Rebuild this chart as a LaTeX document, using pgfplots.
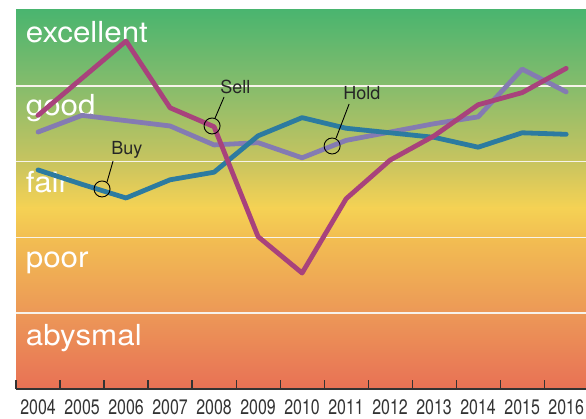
\documentclass[border=0pt]{standalone}
\usepackage{fontspec}
\setmainfont{TeX Gyre Heros}
\newfontfamily\condfont[FakeStretch=0.76]{TeX Gyre Heros}
\newfontfamily\bandfont[FakeStretch=1.08]{TeX Gyre Heros}
\usepackage{pgfplots}
\pgfplotsset{compat=1.18}
\usetikzlibrary{calc}

\definecolor{sellc}{HTML}{A8427C}
\definecolor{holdc}{HTML}{847BB2}
\definecolor{buyc}{HTML}{2C7BA0}
\definecolor{g5}{HTML}{44B46F}
\definecolor{g4}{HTML}{86BC6C}
\definecolor{g3}{HTML}{C8C45F}
\definecolor{g24}{HTML}{F5D254}
\definecolor{g2}{HTML}{F2BE52}
\definecolor{g1}{HTML}{EC9857}
\definecolor{g0}{HTML}{E86D55}
\definecolor{inkc}{HTML}{333333}
\definecolor{bandline}{HTML}{F7F3EA}

\tikzset{
  band/.style={font=\bandfont\fontsize{29pt}{29pt}\selectfont, text=white, anchor=base west, inner sep=0pt},
  note/.style={font=\fontsize{18pt}{18pt}\selectfont, text=black!85, anchor=base west, inner sep=0pt},
  callout/.style={black, line width=0.9pt},
}

% ratings: 0 = bottom of abysmal, 5 = top of excellent
\pgfplotstableread{
year  val
2004  3.61
2006  4.59
2007  3.71
2008  3.46
2009  2.01
2010  1.53
2011  2.51
2012  3.02
2013  3.34
2014  3.75
2015  3.91
2016  4.23
}\sell
\pgfplotstableread{
year  val
2004  3.39
2005  3.61
2006  3.54
2007  3.47
2008  3.22
2009  3.25
2010  3.05
2011  3.28
2012  3.39
2013  3.50
2014  3.59
2015  4.22
2016  3.92
}\hold
\pgfplotstableread{
year  val
2004  2.89
2005  2.70
2006  2.52
2007  2.76
2008  2.86
2009  3.34
2010  3.58
2011  3.44
2012  3.38
2013  3.32
2014  3.19
2015  3.38
2016  3.36
}\buy

\begin{document}
\begin{tikzpicture}
\begin{axis}[
    scale only axis,
    width=570pt, height=379pt,
    xmin=2003.5, xmax=2016.45,
    ymin=0, ymax=5,
    axis on top,
    axis x line*=bottom,
    axis y line=none,
    x axis line style={inkc, line width=1.4pt},
    xtick={2004,...,2016},
    xticklabels={2004,2005,2006,2007,2008,2009,2010,2011,2012,2013,2014,2015,2016},
    minor xtick={2003.5,2004.5,...,2015.5},
    major tick length=0pt,
    minor tick length=9pt,
    tick align=inside,
    xtick pos=bottom,
    minor tick style={inkc, line width=1.1pt},
    xticklabel style={font=\condfont\fontsize{21pt}{21pt}\selectfont, text=inkc, inner sep=0pt, anchor=north},
    xticklabel shift=10pt,
    ytick=\empty,
]
% background bands
\shade[bottom color=g4, top color=g5] (axis cs:2003,3.99) rectangle (axis cs:2017,5.1);
\shade[bottom color=g3, top color=g4] (axis cs:2003,2.99) rectangle (axis cs:2017,4.0);
\shade[bottom color=g24, top color=g3] (axis cs:2003,2.39) rectangle (axis cs:2017,3.0);
\shade[bottom color=g2, top color=g24] (axis cs:2003,1.99) rectangle (axis cs:2017,2.4);
\shade[bottom color=g1, top color=g2] (axis cs:2003,0.99) rectangle (axis cs:2017,2.0);
\shade[bottom color=g0, top color=g1] (axis cs:2003,-0.1) rectangle (axis cs:2017,1.0);
\draw[bandline, line width=1.5pt] (axis cs:2003,1) -- (axis cs:2017,1);
\draw[bandline, line width=1.5pt] (axis cs:2003,2) -- (axis cs:2017,2);
\draw[bandline, line width=1.5pt] (axis cs:2003,3) -- (axis cs:2017,3);
\draw[bandline, line width=1.5pt] (axis cs:2003,4) -- (axis cs:2017,4);
\node[band] at (axis cs:2003.72,4.57) {excellent};
\node[band] at (axis cs:2003.72,3.61) {good};
\node[band] at (axis cs:2003.72,2.59) {fair};
\node[band] at (axis cs:2003.72,1.60) {poor};
\node[band] at (axis cs:2003.72,0.58) {abysmal};

\addplot[holdc, line width=4.8pt, line cap=round, line join=round, no marks] table[x=year, y=val] {\hold};
\addplot[buyc, line width=4.8pt, line cap=round, line join=round, no marks] table[x=year, y=val] {\buy};
\addplot[sellc, line width=4.8pt, line cap=round, line join=round, no marks] table[x=year, y=val] {\sell};

% call-outs
\draw[callout] (axis cs:2005.455,2.639) circle[radius=8pt];
\draw[callout] (axis cs:2005.568,2.731) -- (axis cs:2005.705,3.008);
\node[note] at (axis cs:2005.66,3.10) {Buy};
\draw[callout] (axis cs:2007.955,3.470) circle[radius=8pt];
\draw[callout] (axis cs:2008.023,3.575) -- (axis cs:2008.227,3.852);
\node[note] at (axis cs:2008.136,3.892) {Sell};
\draw[callout] (axis cs:2010.682,3.206) circle[radius=8pt];
\draw[callout] (axis cs:2010.773,3.311) -- (axis cs:2011.068,3.760);
\node[note] at (axis cs:2010.932,3.813) {Hold};
\end{axis}
\pgfresetboundingbox
\path[use as bounding box] ($(current axis.south west)+(-16pt,-29pt)$) rectangle ($(current axis.north east)+(0pt,10pt)$);
\end{tikzpicture}
\end{document}
